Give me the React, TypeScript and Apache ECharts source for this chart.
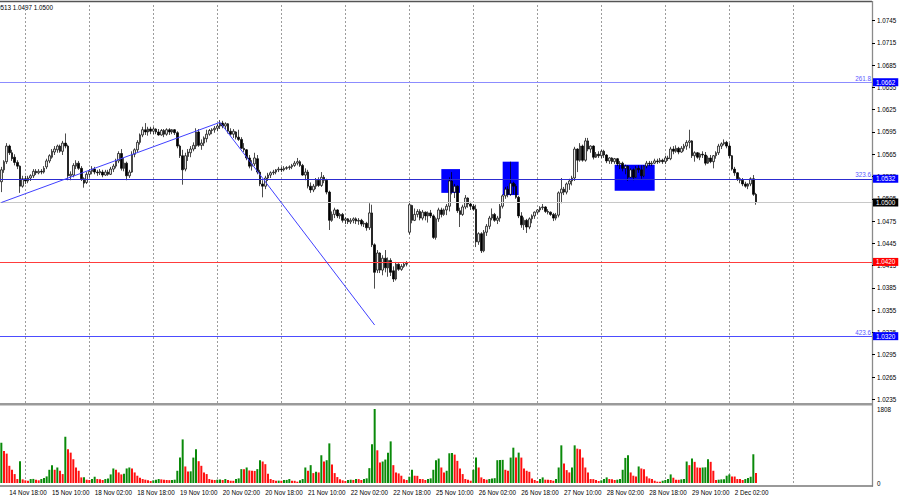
import React, { useEffect, useRef } from "react";
import * as echarts from "echarts";

// [open, close, low, high] per hourly candle, 14 Nov 15:00 .. 2 Dec 10:00
const candles: number[][] = [
  [1.0528,1.0544,1.0514,1.0548],[1.0544,1.0555,1.0540,1.0557],[1.0555,1.0576,1.0552,1.0580],[1.0576,1.0567,1.0564,1.0578],[1.0567,1.0559,1.0556,1.0571],
  [1.0561,1.0554,1.0550,1.0565],[1.0554,1.0549,1.0545,1.0557],[1.0549,1.0522,1.0513,1.0550],[1.0522,1.0532,1.0520,1.0536],[1.0532,1.0529,1.0525,1.0536],
  [1.0529,1.0533,1.0526,1.0536],[1.0533,1.0536,1.0529,1.0538],[1.0536,1.0542,1.0533,1.0545],[1.0542,1.0540,1.0537,1.0545],[1.0540,1.0542,1.0538,1.0545],
  [1.0542,1.0541,1.0538,1.0545],[1.0541,1.0546,1.0539,1.0549],[1.0548,1.0556,1.0545,1.0559],[1.0556,1.0563,1.0553,1.0565],[1.0561,1.0569,1.0559,1.0572],
  [1.0568,1.0572,1.0564,1.0576],[1.0571,1.0576,1.0567,1.0578],[1.0576,1.0569,1.0567,1.0578],[1.0569,1.0580,1.0564,1.0583],[1.0580,1.0576,1.0573,1.0593],
  [1.0576,1.0536,1.0530,1.0578],[1.0536,1.0538,1.0530,1.0542],[1.0537,1.0550,1.0534,1.0553],[1.0549,1.0553,1.0545,1.0557],[1.0553,1.0546,1.0544,1.0556],
  [1.0546,1.0532,1.0529,1.0549],[1.0532,1.0526,1.0520,1.0534],[1.0527,1.0538,1.0525,1.0541],[1.0538,1.0542,1.0534,1.0545],[1.0542,1.0545,1.0538,1.0549],
  [1.0545,1.0541,1.0538,1.0548],[1.0541,1.0540,1.0536,1.0544],[1.0540,1.0542,1.0537,1.0545],[1.0541,1.0537,1.0534,1.0544],[1.0537,1.0541,1.0536,1.0544],
  [1.0541,1.0538,1.0536,1.0544],[1.0538,1.0545,1.0537,1.0548],[1.0545,1.0549,1.0541,1.0552],[1.0549,1.0556,1.0546,1.0559],[1.0556,1.0566,1.0553,1.0569],
  [1.0566,1.0546,1.0543,1.0572],[1.0546,1.0553,1.0542,1.0560],[1.0553,1.0536,1.0530,1.0555],[1.0536,1.0541,1.0533,1.0544],[1.0541,1.0565,1.0540,1.0569],
  [1.0565,1.0571,1.0561,1.0573],[1.0571,1.0581,1.0568,1.0584],[1.0581,1.0591,1.0578,1.0593],[1.0591,1.0598,1.0588,1.0602],[1.0598,1.0595,1.0591,1.0607],
  [1.0595,1.0599,1.0590,1.0602],[1.0599,1.0596,1.0592,1.0602],[1.0596,1.0599,1.0592,1.0602],[1.0599,1.0595,1.0592,1.0600],[1.0595,1.0591,1.0590,1.0599],
  [1.0591,1.0597,1.0590,1.0599],[1.0597,1.0592,1.0588,1.0599],[1.0592,1.0598,1.0590,1.0600],[1.0598,1.0595,1.0591,1.0600],[1.0595,1.0598,1.0592,1.0599],
  [1.0598,1.0594,1.0591,1.0599],[1.0594,1.0576,1.0573,1.0596],[1.0576,1.0563,1.0560,1.0578],[1.0563,1.0544,1.0524,1.0571],[1.0545,1.0563,1.0542,1.0567],
  [1.0562,1.0568,1.0556,1.0572],[1.0567,1.0572,1.0561,1.0576],[1.0572,1.0577,1.0569,1.0581],[1.0576,1.0595,1.0572,1.0600],[1.0595,1.0577,1.0575,1.0599],
  [1.0577,1.0580,1.0571,1.0585],[1.0580,1.0587,1.0576,1.0589],[1.0586,1.0592,1.0581,1.0598],[1.0592,1.0597,1.0590,1.0599],[1.0597,1.0598,1.0592,1.0600],
  [1.0598,1.0600,1.0594,1.0603],[1.0600,1.0603,1.0596,1.0606],[1.0603,1.0607,1.0599,1.0611],[1.0607,1.0603,1.0600,1.0610],[1.0603,1.0606,1.0599,1.0608],
  [1.0606,1.0596,1.0593,1.0607],[1.0596,1.0592,1.0590,1.0600],[1.0592,1.0596,1.0587,1.0599],[1.0595,1.0588,1.0585,1.0596],[1.0588,1.0585,1.0583,1.0598],
  [1.0585,1.0573,1.0572,1.0588],[1.0573,1.0571,1.0568,1.0580],[1.0571,1.0560,1.0557,1.0572],[1.0560,1.0549,1.0546,1.0564],[1.0549,1.0552,1.0543,1.0557],
  [1.0552,1.0560,1.0549,1.0567],[1.0559,1.0541,1.0538,1.0564],[1.0541,1.0525,1.0522,1.0544],[1.0525,1.0522,1.0507,1.0530],[1.0522,1.0533,1.0518,1.0536],
  [1.0533,1.0537,1.0529,1.0540],[1.0537,1.0540,1.0533,1.0542],[1.0540,1.0541,1.0537,1.0544],[1.0541,1.0544,1.0538,1.0545],[1.0544,1.0545,1.0541,1.0548],
  [1.0545,1.0544,1.0541,1.0548],[1.0544,1.0546,1.0542,1.0549],[1.0546,1.0547,1.0544,1.0549],[1.0547,1.0548,1.0544,1.0550],[1.0548,1.0550,1.0545,1.0552],
  [1.0550,1.0553,1.0548,1.0556],[1.0553,1.0555,1.0550,1.0560],[1.0555,1.0550,1.0548,1.0557],[1.0550,1.0537,1.0536,1.0552],[1.0537,1.0541,1.0530,1.0546],
  [1.0541,1.0522,1.0519,1.0544],[1.0522,1.0517,1.0513,1.0527],[1.0517,1.0522,1.0514,1.0525],[1.0522,1.0530,1.0518,1.0533],[1.0530,1.0523,1.0521,1.0534],
  [1.0523,1.0534,1.0521,1.0541],[1.0534,1.0530,1.0526,1.0537],[1.0530,1.0514,1.0511,1.0532],[1.0514,1.0476,1.0463,1.0516],[1.0476,1.0484,1.0474,1.0488],
  [1.0484,1.0490,1.0479,1.0493],[1.0490,1.0482,1.0479,1.0491],[1.0482,1.0484,1.0478,1.0486],[1.0484,1.0476,1.0473,1.0486],[1.0476,1.0478,1.0471,1.0480],
  [1.0478,1.0474,1.0471,1.0479],[1.0474,1.0476,1.0471,1.0479],[1.0476,1.0478,1.0472,1.0480],[1.0478,1.0475,1.0471,1.0480],[1.0475,1.0476,1.0470,1.0479],
  [1.0476,1.0471,1.0468,1.0478],[1.0471,1.0472,1.0467,1.0475],[1.0472,1.0466,1.0462,1.0474],[1.0466,1.0486,1.0463,1.0499],[1.0486,1.0443,1.0440,1.0497],
  [1.0443,1.0406,1.0384,1.0445],[1.0409,1.0432,1.0405,1.0436],[1.0432,1.0409,1.0405,1.0433],[1.0409,1.0425,1.0402,1.0429],[1.0425,1.0412,1.0406,1.0436],
  [1.0412,1.0422,1.0400,1.0426],[1.0422,1.0406,1.0401,1.0425],[1.0408,1.0397,1.0393,1.0414],[1.0397,1.0417,1.0395,1.0420],[1.0417,1.0410,1.0408,1.0418],
  [1.0410,1.0414,1.0408,1.0417],[1.0414,1.0417,1.0412,1.0420],[1.0417,1.0418,1.0414,1.0421],[1.0460,1.0497,1.0457,1.0501],[1.0496,1.0476,1.0472,1.0497],
  [1.0476,1.0484,1.0475,1.0492],[1.0484,1.0488,1.0480,1.0491],[1.0488,1.0479,1.0476,1.0491],[1.0479,1.0487,1.0476,1.0490],[1.0487,1.0482,1.0476,1.0488],
  [1.0482,1.0486,1.0473,1.0488],[1.0486,1.0482,1.0479,1.0490],[1.0482,1.0453,1.0451,1.0484],[1.0453,1.0478,1.0450,1.0480],[1.0478,1.0490,1.0474,1.0493],
  [1.0490,1.0484,1.0480,1.0493],[1.0484,1.0490,1.0482,1.0492],[1.0490,1.0495,1.0483,1.0498],[1.0495,1.0529,1.0488,1.0534],[1.0529,1.0514,1.0511,1.0541],
  [1.0514,1.0522,1.0506,1.0525],[1.0522,1.0489,1.0486,1.0523],[1.0489,1.0484,1.0467,1.0493],[1.0484,1.0494,1.0482,1.0497],[1.0494,1.0506,1.0491,1.0510],
  [1.0506,1.0498,1.0493,1.0507],[1.0498,1.0495,1.0490,1.0501],[1.0495,1.0491,1.0489,1.0498],[1.0491,1.0447,1.0440,1.0497],[1.0447,1.0458,1.0443,1.0460],
  [1.0458,1.0435,1.0432,1.0460],[1.0435,1.0460,1.0433,1.0463],[1.0460,1.0468,1.0455,1.0471],[1.0468,1.0479,1.0464,1.0482],[1.0479,1.0484,1.0476,1.0492],
  [1.0484,1.0476,1.0474,1.0486],[1.0476,1.0479,1.0471,1.0482],[1.0479,1.0495,1.0474,1.0498],[1.0495,1.0509,1.0492,1.0511],[1.0509,1.0518,1.0505,1.0521],
  [1.0518,1.0511,1.0507,1.0522],[1.0511,1.0526,1.0509,1.0555],[1.0526,1.0522,1.0511,1.0528],[1.0522,1.0507,1.0505,1.0525],[1.0507,1.0482,1.0479,1.0509],
  [1.0482,1.0470,1.0466,1.0487],[1.0470,1.0476,1.0463,1.0480],[1.0476,1.0467,1.0459,1.0478],[1.0467,1.0478,1.0464,1.0480],[1.0478,1.0482,1.0472,1.0484],
  [1.0482,1.0487,1.0478,1.0488],[1.0487,1.0490,1.0484,1.0491],[1.0490,1.0493,1.0487,1.0495],[1.0493,1.0494,1.0490,1.0498],[1.0494,1.0488,1.0486,1.0495],
  [1.0488,1.0487,1.0484,1.0491],[1.0487,1.0484,1.0482,1.0488],[1.0484,1.0479,1.0475,1.0486],[1.0479,1.0483,1.0476,1.0486],[1.0483,1.0513,1.0480,1.0515],
  [1.0513,1.0518,1.0499,1.0533],[1.0518,1.0514,1.0510,1.0521],[1.0514,1.0525,1.0511,1.0527],[1.0525,1.0529,1.0517,1.0532],[1.0529,1.0533,1.0523,1.0536],
  [1.0533,1.0572,1.0529,1.0575],[1.0572,1.0557,1.0541,1.0573],[1.0557,1.0576,1.0555,1.0580],[1.0576,1.0557,1.0555,1.0578],[1.0557,1.0583,1.0555,1.0587],
  [1.0583,1.0572,1.0569,1.0587],[1.0572,1.0576,1.0567,1.0577],[1.0576,1.0561,1.0558,1.0577],[1.0561,1.0565,1.0560,1.0568],[1.0565,1.0563,1.0560,1.0569],
  [1.0563,1.0569,1.0560,1.0571],[1.0569,1.0564,1.0560,1.0571],[1.0564,1.0556,1.0553,1.0565],[1.0556,1.0560,1.0552,1.0561],[1.0560,1.0555,1.0552,1.0561],
  [1.0555,1.0559,1.0552,1.0560],[1.0559,1.0552,1.0549,1.0560],[1.0552,1.0553,1.0545,1.0556],[1.0553,1.0546,1.0542,1.0555],[1.0546,1.0549,1.0538,1.0551],
  [1.0549,1.0534,1.0529,1.0550],[1.0534,1.0544,1.0533,1.0546],[1.0544,1.0534,1.0530,1.0546],[1.0534,1.0546,1.0533,1.0549],[1.0546,1.0544,1.0540,1.0550],
  [1.0544,1.0536,1.0532,1.0550],[1.0536,1.0549,1.0534,1.0550],[1.0549,1.0553,1.0546,1.0556],[1.0553,1.0552,1.0549,1.0556],[1.0552,1.0553,1.0549,1.0556],
  [1.0553,1.0556,1.0552,1.0559],[1.0556,1.0555,1.0552,1.0559],[1.0555,1.0557,1.0553,1.0560],[1.0557,1.0555,1.0552,1.0559],[1.0555,1.0560,1.0552,1.0563],
  [1.0560,1.0559,1.0556,1.0563],[1.0559,1.0572,1.0557,1.0575],[1.0572,1.0569,1.0565,1.0576],[1.0569,1.0573,1.0567,1.0577],[1.0573,1.0568,1.0565,1.0575],
  [1.0568,1.0573,1.0567,1.0576],[1.0573,1.0576,1.0569,1.0579],[1.0576,1.0581,1.0571,1.0584],[1.0581,1.0583,1.0573,1.0598],[1.0583,1.0563,1.0560,1.0584],
  [1.0563,1.0567,1.0555,1.0569],[1.0567,1.0561,1.0559,1.0568],[1.0561,1.0565,1.0557,1.0567],[1.0565,1.0564,1.0560,1.0569],[1.0564,1.0553,1.0550,1.0568],
  [1.0553,1.0560,1.0552,1.0563],[1.0560,1.0555,1.0553,1.0564],[1.0555,1.0563,1.0546,1.0564],[1.0563,1.0567,1.0559,1.0569],[1.0567,1.0576,1.0564,1.0579],
  [1.0576,1.0579,1.0572,1.0581],[1.0579,1.0581,1.0577,1.0585],[1.0581,1.0576,1.0573,1.0583],[1.0576,1.0563,1.0560,1.0580],[1.0563,1.0545,1.0543,1.0564],
  [1.0545,1.0540,1.0536,1.0548],[1.0540,1.0532,1.0529,1.0541],[1.0532,1.0530,1.0526,1.0534],[1.0530,1.0525,1.0522,1.0533],[1.0525,1.0522,1.0520,1.0528],
  [1.0522,1.0525,1.0518,1.0526],[1.0525,1.0532,1.0522,1.0534],[1.0532,1.0511,1.0509,1.0537],[1.0511,1.0500,1.0497,1.0513],
];

const volumes: number[] = [
  985,783,718,420,323,218,97,533,89,65,
  56,97,100,81,65,97,121,161,323,436,
  323,379,299,218,1130,823,742,581,379,299,
  137,140,81,73,97,153,97,92,73,97,
  113,210,355,323,258,210,226,355,379,355,
  258,178,129,97,81,65,48,65,81,97,
  89,81,73,70,75,81,299,621,1065,404,
  282,285,621,823,533,420,258,218,97,81,
  73,81,83,73,97,73,56,54,97,113,
  339,335,379,307,299,295,339,557,525,460,
  226,97,73,56,58,54,73,75,97,56,
  54,32,65,97,379,299,436,242,274,258,
  678,525,557,968,452,242,145,89,65,48,
  73,81,75,97,95,73,97,113,363,944,
  1808,799,500,525,573,742,1017,436,258,234,
  178,89,73,153,323,178,175,97,95,73,
  97,113,323,557,597,379,258,299,726,730,
  694,541,355,218,97,81,56,323,621,379,
  137,97,81,97,113,118,557,560,565,323,
  299,621,863,621,742,621,355,299,274,113,
  73,48,97,137,81,78,73,56,97,379,
  920,476,315,258,379,920,839,823,621,379,
  258,97,95,73,48,65,97,137,97,89,
  73,81,97,323,613,678,258,178,161,404,
  355,339,161,113,97,56,32,30,56,73,
  97,210,129,81,78,89,97,525,436,597,
  517,379,375,379,383,581,517,299,73,81,
  89,92,178,210,161,158,97,95,73,97,
  121,153,702,242,
];

const totalSlots = 327;
const priceTicks = [1.0235,1.0265,1.0295,1.0325,1.0355,1.0385,1.0415,1.0445,1.0475,1.0505,1.0535,1.0565,1.0595,1.0625,1.0655,1.0685,1.0715,1.0745];
const volumeTicks = [0, 1808];
const timeTicks: [number, string][] = [
  [3,"14 Nov 18:00"],[19,"15 Nov 10:00"],[35,"18 Nov 02:00"],[51,"18 Nov 18:00"],[67,"19 Nov 10:00"],
  [83,"20 Nov 02:00"],[99,"20 Nov 18:00"],[115,"21 Nov 10:00"],[131,"22 Nov 02:00"],[147,"22 Nov 18:00"],
  [163,"25 Nov 10:00"],[179,"26 Nov 02:00"],[195,"26 Nov 18:00"],[211,"27 Nov 10:00"],[227,"28 Nov 02:00"],
  [243,"28 Nov 18:00"],[259,"29 Nov 10:00"],[275,"2 Dec 02:00"],
];
const dayStarts = [9,33,57,81,105,129,153,177,201,225,249,273,297];
const levelPrices = [1.0662, 1.0532, 1.0500, 1.0420, 1.0320];
const levelRatios = ["261.8", "323.6", "", "", "423.6"];
const trendLines: number[][][] = [
  [[0, 1.0500], [82, 1.0608]],
  [[82, 1.0608], [140, 1.0335]],
];
const zones: number[][] = [
  [165, 1.0545, 172, 1.0513],
  [188, 1.0555, 194, 1.0510],
  [230, 1.0551, 245, 1.0516],
];
const headerText = "1.0513 1.0497 1.0500";

const FONT = "'Liberation Sans', Arial, sans-serif";
const FS = 6.3;
const levelLine = ["#8c8cff", "#2c2cd0", "#c8c8c8", "#ff3c3c", "#4c4cff"];
const levelTag = ["#0000ff", "#0000ff", "#000000", "#ff0000", "#0000ff"];

function buildOption(): any {
  const cats = Array.from({ length: totalSlots }, (_, i) => String(i));
  const tickMap = new Map<number, string>(timeTicks);
  const GREEN = "#0a8a0a";
  const RED = "#ff1010";

  const levelData: any[] = [];
  levelPrices.forEach((p, k) => {
    levelData.push({
      yAxis: p,
      lineStyle: { color: levelLine[k], width: 1, type: "solid" },
      label: {
        show: true,
        position: "end",
        distance: 1,
        formatter: p.toFixed(4),
        color: "#ffffff",
        backgroundColor: levelTag[k],
        padding: [1, 3, 0, 3],
        fontSize: FS,
        fontFamily: FONT,
        lineHeight: 7,
      },
    });
    if (levelRatios[k]) {
      levelData.push({
        yAxis: p,
        lineStyle: { color: "rgba(0,0,0,0)", width: 1 },
        label: {
          show: true,
          position: "insideEndTop",
          distance: 1,
          formatter: levelRatios[k],
          color: "#5a5aff",
          fontSize: FS,
          fontFamily: FONT,
        },
      });
    }
  });
  const trendData = trendLines.map((seg) => [
    { coord: seg[0], lineStyle: { color: "#4040ff", width: 1, type: "solid" } },
    { coord: seg[1] },
  ]);

  const gridLines = {
    silent: true,
    symbol: "none",
    z: 0,
    label: { show: false },
    lineStyle: { color: "#9c9c9c", type: [2, 2], width: 1 },
    data: dayStarts.map((d) => ({ xAxis: d })),
  };

  return {
    animation: false,
    backgroundColor: "#ffffff",
    textStyle: { fontFamily: FONT },
    grid: [
      { left: -1.33, right: 28, top: 5, height: 398 },
      { left: -1.33, right: 28, top: 409, height: 74 },
    ],
    xAxis: [
      {
        type: "category", gridIndex: 0, data: cats,
        axisLine: { show: false }, axisTick: { show: false },
        axisLabel: { show: false }, splitLine: { show: false },
      },
      {
        type: "category", gridIndex: 1, data: cats,
        axisLine: { show: false },
        axisTick: { show: false },
        axisLabel: {
          show: true,
          interval: (i: number) => tickMap.has(i),
          formatter: (_v: string, i: number) => tickMap.get(i) ?? "",
          align: "left", fontSize: FS, color: "#000000", margin: 6, fontFamily: FONT,
        },
        splitLine: { show: false },
      },
    ],
    yAxis: [
      {
        type: "value", gridIndex: 0, position: "right", min: 1.023, max: 1.0766,
        splitLine: { show: false }, axisLine: { show: false },
        axisTick: { show: true, customValues: priceTicks, length: 3, lineStyle: { color: "#000000" } },
        axisLabel: {
          customValues: priceTicks, formatter: (v: number) => v.toFixed(4),
          fontSize: FS, color: "#000000", margin: 5, fontFamily: FONT,
        },
      },
      {
        type: "value", gridIndex: 1, position: "right", min: 0, max: 1808,
        splitLine: { show: false }, axisLine: { show: false },
        axisTick: { show: false },
        axisLabel: {
          customValues: volumeTicks, formatter: (v: number) => String(v),
          fontSize: FS, color: "#000000", margin: 5, fontFamily: FONT,
        },
      },
    ],
    series: [
      {
        type: "line", xAxisIndex: 0, yAxisIndex: 0, data: [], z: 0, silent: true,
        markLine: gridLines,
      },
      {
        type: "candlestick", xAxisIndex: 0, yAxisIndex: 0, z: 3,
        data: candles, barWidth: 2.3,
        itemStyle: {
          color: "#e6e6e6", color0: "#000000",
          borderColor: "#000000", borderColor0: "#000000", borderWidth: 0.7,
        },
        markArea: {
          silent: true, z: 1,
          itemStyle: { color: "#0000ff", opacity: 1 },
          data: zones.map((z) => [{ coord: [z[0], z[1]] }, { coord: [z[2], z[3]] }]),
        },
        markLine: {
          silent: true, symbol: "none", z: 5, precision: 5,
          label: { show: false },
          data: [...levelData, ...trendData],
        },
      },
      {
        type: "bar", xAxisIndex: 1, yAxisIndex: 1, barWidth: 2, z: 3,
        data: volumes.map((v, i) => ({
          value: v,
          itemStyle: { color: i === 0 || v > volumes[i - 1] ? GREEN : RED },
        })),
        markLine: gridLines,
      },
    ],
    graphic: [
      { type: "line", silent: true, shape: { x1: 0, y1: 1.5, x2: 872, y2: 1.5 }, style: { stroke: "#555555", lineWidth: 1.5 } },
      { type: "line", silent: true, shape: { x1: 872.5, y1: 1, x2: 872.5, y2: 486.5 }, style: { stroke: "#8a8a8a", lineWidth: 1.3 } },
      { type: "line", silent: true, shape: { x1: 0, y1: 486, x2: 873, y2: 486 }, style: { stroke: "#777777", lineWidth: 1.5 } },
      { type: "rect", silent: true, shape: { x: 0, y: 403, width: 872, height: 2.5 }, style: { fill: "#9a9a9a" } },
      {
        type: "text", silent: true, x: 53, y: 7,
        style: { text: headerText, align: "right", verticalAlign: "middle", font: `${FS}px ${FONT}`, fill: "#000000" },
      },
    ],
  };
}

export default function App() {
  const ref = useRef<HTMLDivElement>(null);
  useEffect(() => {
    if (!ref.current) return;
    const chart = echarts.init(ref.current, undefined, { renderer: "svg" });
    chart.setOption(buildOption());
    return () => chart.dispose();
  }, []);
  return (
    <div
      ref={ref}
      style={{ position: "fixed", left: 0, top: 0, width: 900, height: 500, background: "#ffffff" }}
    />
  );
}
